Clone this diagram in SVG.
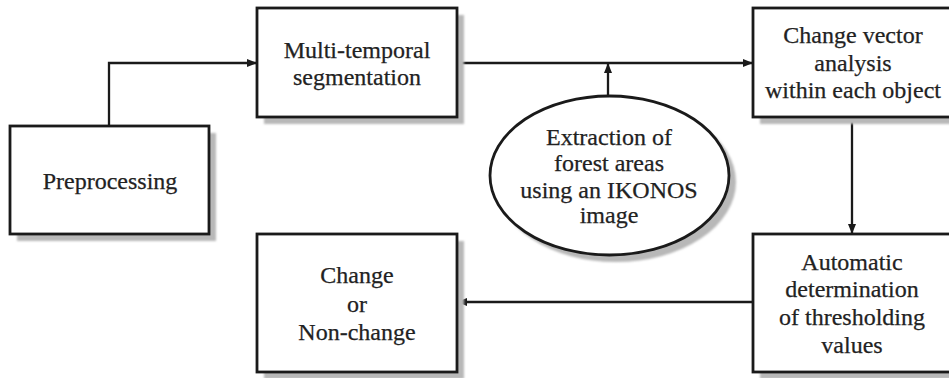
<svg xmlns="http://www.w3.org/2000/svg" width="949" height="378" viewBox="0 0 949 378">
<style>
.box{fill:#fff;stroke:#1a1a1a;stroke-width:2.8}
.sh{fill:#b8b8b8}
.t{font-family:"Liberation Serif","Times New Roman",serif;font-size:24px;fill:#222;stroke:#222;stroke-width:0.25;text-anchor:middle}
.c{fill:none;stroke:#1a1a1a;stroke-width:2.3}
</style>
<defs>
<filter id="blur" x="-10%" y="-10%" width="120%" height="120%"><feGaussianBlur stdDeviation="1.2"/></filter>
<marker id="arr" markerUnits="userSpaceOnUse" markerWidth="10" markerHeight="8" refX="9" refY="4" orient="auto"><path d="M0,0 L10,4 L0,8 z" fill="#1a1a1a"/></marker>
</defs>
<rect width="949" height="378" fill="#fff"/>
<g id="connectors">
<path class="c" d="M109,126 V63 H256" marker-end="url(#arr)"/>
<path class="c" d="M457,63 H752" marker-end="url(#arr)"/>
<path class="c" d="M608,96 V64" marker-end="url(#arr)"/>
<path class="c" d="M852,117 V233" marker-end="url(#arr)"/>
<path class="c" d="M753,302 H458" marker-end="url(#arr)"/>
</g>
<g id="preprocessing">
<rect class="sh" x="17" y="133" width="199" height="108" filter="url(#blur)"/>
<rect class="box" x="10" y="126" width="199" height="108"/>
<text class="t" x="110" y="189">Preprocessing</text>
</g>
<g id="segmentation">
<rect class="sh" x="264" y="15" width="200" height="109" filter="url(#blur)"/>
<rect class="box" x="257" y="8" width="200" height="109"/>
<text class="t" x="357" y="58">Multi-temporal</text>
<text class="t" x="357" y="85">segmentation</text>
</g>
<g id="cva">
<rect class="sh" x="760" y="15" width="198" height="109" filter="url(#blur)"/>
<rect class="box" x="753" y="8" width="198" height="109"/>
<text class="t" x="853" y="43">Change vector</text>
<text class="t" x="853" y="71">analysis</text>
<text class="t" x="853" y="98">within each object</text>
</g>
<g id="extraction">
<ellipse class="sh" cx="616" cy="182" rx="120" ry="80" filter="url(#blur)"/>
<ellipse class="box" cx="609.5" cy="175.5" rx="119.5" ry="79.5"/>
<text class="t" x="609" y="145">Extraction of</text>
<text class="t" x="609" y="171">forest areas</text>
<text class="t" x="609" y="198">using an IKONOS</text>
<text class="t" x="609" y="223">image</text>
</g>
<g id="threshold">
<rect class="sh" x="760" y="241" width="198" height="138" filter="url(#blur)"/>
<rect class="box" x="753" y="234" width="198" height="138"/>
<text class="t" x="852" y="270">Automatic</text>
<text class="t" x="852" y="297">determination</text>
<text class="t" x="852" y="325">of thresholding</text>
<text class="t" x="852" y="353">values</text>
</g>
<g id="result">
<rect class="sh" x="264" y="241" width="200" height="138" filter="url(#blur)"/>
<rect class="box" x="257" y="234" width="200" height="138"/>
<text class="t" x="357" y="283">Change</text>
<text class="t" x="357" y="312">or</text>
<text class="t" x="357" y="340">Non-change</text>
</g>
</svg>
